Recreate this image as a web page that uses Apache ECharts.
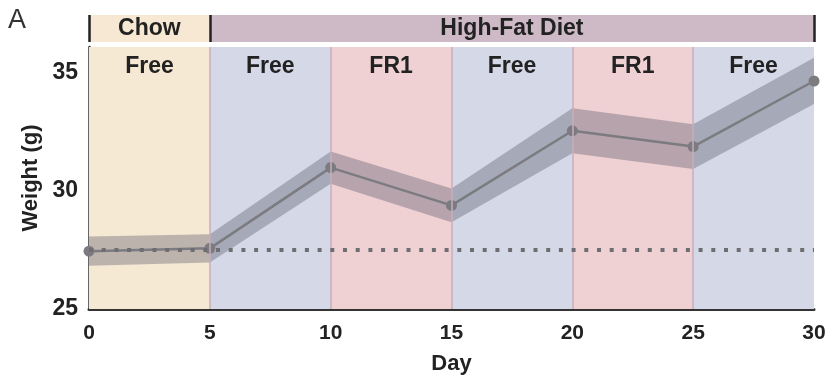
<!DOCTYPE html>
<html>
<head>
<meta charset="utf-8">
<script src="https://cdn.jsdelivr.net/npm/echarts@6/dist/echarts.min.js"></script>
<style>html,body{margin:0;padding:0;background:#fff;}#c{width:831px;height:380px;}</style>
</head>
<body>
<div id="c"></div>
<script>
// ---- data ----
const days = [0, 5, 10, 15, 20, 25, 30];
const weight = [27.45, 27.57, 30.99, 29.39, 32.55, 31.88, 34.66];
const sem = [0.62, 0.60, 0.68, 0.72, 0.95, 0.95, 0.98];
const baselineWeight = 27.5;
const xTicks = [0, 5, 10, 15, 20, 25, 30];
const yTicks = [25, 30, 35];
const phaseStart = [0, 5, 10, 15, 20, 25];
const phaseEnd = [5, 10, 15, 20, 25, 30];
const phaseLabel = ['Free', 'Free', 'FR1', 'Free', 'FR1', 'Free'];
const phaseDiet = ['Chow', 'HFD', 'HFD', 'HFD', 'HFD', 'HFD'];
const dietLabel = ['Chow', 'High-Fat Diet'];
const dietStart = [0, 5];
const dietEnd = [5, 30];

// ---- styles ----
const FONT = '"Liberation Sans", Arial, sans-serif';
const phaseColor = (i) => phaseDiet[i] === 'Chow' ? '#f6e9d4' : (phaseLabel[i] === 'FR1' ? '#efd0d3' : '#d5d9e7');
const dietColor = ['#f6e8d2', '#cdbac6'];

const bandData = days.map((d, i) => [d, weight[i] - sem[i], weight[i] + sem[i]]);
const mean = days.map((d, i) => [d, weight[i]]);

const chart = echarts.init(document.getElementById('c'), null, {renderer: 'canvas'});
chart.setOption({
  animation: false,
  backgroundColor: '#ffffff',
  textStyle: {fontFamily: FONT},
  title: {text: 'A', left: 3, top: 2, textStyle: {fontFamily: FONT, fontWeight: 'normal', fontSize: 27, color: '#333'}},
  grid: [
    {left: 89, right: 17, top: 47, bottom: 70},
    {left: 89, right: 17, top: 15, height: 27}
  ],
  xAxis: [
    {
      type: 'value', gridIndex: 0, min: 0, max: 30, interval: 5,
      name: 'Day', nameLocation: 'middle', nameGap: 44,
      nameTextStyle: {fontFamily: FONT, fontWeight: 'bold', fontSize: 22, color: '#222'},
      axisLine: {show: true, lineStyle: {color: '#333', width: 3}},
      axisTick: {show: false},
      splitLine: {show: false},
      axisLabel: {fontFamily: FONT, fontWeight: 'bold', fontSize: 21, color: '#222', margin: 14,
        formatter: (v) => xTicks.includes(v) ? String(v) : ''}
    },
    {type: 'value', gridIndex: 1, min: 0, max: 30, show: false}
  ],
  yAxis: [
    {
      type: 'value', gridIndex: 0, min: 25, max: 36.1, interval: 5,
      name: 'Weight (g)', nameLocation: 'middle', nameGap: 47, nameRotate: 90,
      nameTextStyle: {fontFamily: FONT, fontWeight: 'bold', fontSize: 22, color: '#222'},
      axisLine: {show: true, lineStyle: {color: '#333', width: 2.5}},
      axisTick: {show: false},
      splitLine: {show: false},
      axisLabel: {fontFamily: FONT, fontWeight: 'bold', fontSize: 23, color: '#222', margin: 11,
        formatter: (v) => yTicks.includes(v) ? String(v) : ''}
    },
    {type: 'value', gridIndex: 1, min: 0, max: 1, show: false}
  ],
  series: [
    // background phases
    {
      type: 'line', xAxisIndex: 0, yAxisIndex: 0, z: 1, silent: true,
      data: [[0, 25]], symbol: 'none', lineStyle: {width: 0, opacity: 0},
      markArea: {
        silent: true,
        data: phaseStart.map((s, i) => [
          {xAxis: s, name: phaseLabel[i], itemStyle: {color: phaseColor(i)}},
          {xAxis: phaseEnd[i]}
        ]),
        label: {show: true, position: 'insideTop', distance: 8, fontFamily: FONT, fontWeight: 'bold', fontSize: 23, color: '#222'}
      },
      markLine: {
        silent: true, symbol: 'none',
        data: phaseStart.slice(1).map((s) => ({xAxis: s})),
        lineStyle: {color: '#c7adbd', width: 1.5, type: 'solid'},
        label: {show: false}
      }
    },
    // header diet bands
    {
      type: 'line', xAxisIndex: 1, yAxisIndex: 1, z: 1, silent: true,
      data: [[0, 0]], symbol: 'none', lineStyle: {width: 0, opacity: 0},
      markArea: {
        silent: true,
        data: dietStart.map((s, i) => [
          {xAxis: s, name: dietLabel[i], itemStyle: {color: dietColor[i]}},
          {xAxis: dietEnd[i]}
        ]),
        label: {show: true, position: 'inside', fontFamily: FONT, fontWeight: 'bold', fontSize: 23, color: '#222'}
      },
      markLine: {
        silent: true, symbol: 'none',
        data: [{xAxis: dietStart[0]}, {xAxis: dietStart[1]}, {xAxis: dietEnd[1]}],
        lineStyle: {color: '#222', width: 2.5, type: 'solid'},
        label: {show: false}
      }
    },
    // SEM band (one polygon through upper and lower bounds)
    {
      type: 'custom', xAxisIndex: 0, yAxisIndex: 0, z: 2, silent: true,
      data: bandData,
      encode: {x: 0, y: [1, 2]},
      renderItem: function (params, api) {
        if (params.dataIndex !== 0) return null;
        const upper = bandData.map((r) => api.coord([r[0], r[2]]));
        const low = bandData.map((r) => api.coord([r[0], r[1]])).reverse();
        return {
          type: 'polygon',
          shape: {points: upper.concat(low)},
          style: {fill: 'rgba(88,88,102,0.37)'}
        };
      }
    },
    // baseline dotted line
    {
      type: 'line', xAxisIndex: 0, yAxisIndex: 0, z: 3, silent: true,
      data: [[0, baselineWeight]], symbol: 'none', lineStyle: {width: 0, opacity: 0},
      markLine: {
        silent: true, symbol: 'none',
        data: [{yAxis: baselineWeight}],
        lineStyle: {color: '#6e6e72', width: 4, type: [4, 8.7], cap: 'butt'},
        label: {show: false}
      }
    },
    // mean line
    {
      type: 'line', xAxisIndex: 0, yAxisIndex: 0, z: 4, silent: true,
      data: mean, symbol: 'circle', symbolSize: 11,
      itemStyle: {color: '#7b7b80'},
      lineStyle: {color: '#7b7b80', width: 2.5}
    }
  ]
});
</script>
</body>
</html>
